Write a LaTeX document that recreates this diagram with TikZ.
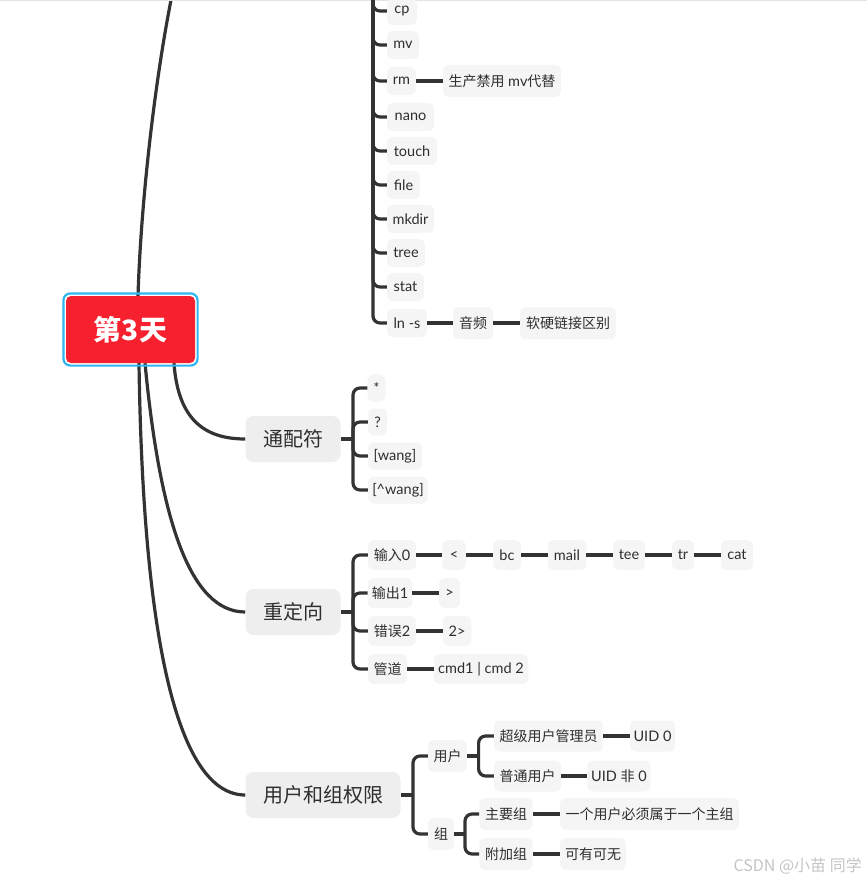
\documentclass[tikz,border=0pt]{standalone}
\usepackage{fontspec}
\setmainfont{Lato}
\newfontfamily\cjk{Noto Sans CJK SC}
\usetikzlibrary{backgrounds}
\definecolor{txt}{HTML}{2E2E2E}
\definecolor{linec}{HTML}{333333}
\definecolor{leafbg}{HTML}{F5F5F5}
\definecolor{topicbg}{HTML}{EEEEEE}
\definecolor{rootred}{HTML}{F7202E}
\definecolor{rootblue}{HTML}{2FB5F0}
\definecolor{wm}{HTML}{C4C4C4}
\definecolor{topline}{HTML}{E4E4E4}
\begin{document}
\begin{tikzpicture}[x=1pt,y=-1pt,
  conn/.style={draw=linec,line width=3.2pt},
  leafbox/.style={rectangle,rounded corners=6pt,fill=leafbg,inner sep=0pt,minimum height=28pt,text=txt,font=\fontsize{14.5}{16}\selectfont},
  cjkleaf/.style={leafbox,font=\cjk\fontsize{14}{16}\selectfont},
  topic/.style={rectangle,rounded corners=8pt,fill=topicbg,inner sep=0pt,minimum height=46pt,text=txt,font=\cjk\fontsize{20}{24}\selectfont},
  rootnode/.style={rectangle,rounded corners=5pt,fill=rootred,inner sep=0pt,text=white,font=\cjk\bfseries\fontsize{28}{32}\selectfont}
]
\useasboundingbox (0,0) rectangle (867,882);
\draw[topline,line width=1pt] (0,0.5) -- (867,0.5);

% ---------- root ----------
\node[rootnode,minimum width=129pt,minimum height=67pt] (root) at (130.5,329.5) {第3天};
\draw[rootblue,line width=2.2pt,rounded corners=7pt]
  ([xshift=-2.4pt,yshift=2.4pt]root.north west) rectangle ([xshift=2.4pt,yshift=-2.4pt]root.south east);

% ---------- top column (parent above the picture) ----------
\coordinate (upend) at (172,-5);
\coordinate (fb) at (373,-30);
\node[leafbox,minimum width=30pt] (cp) at (402,11) {cp};
\node[leafbox,minimum width=32pt] (mv) at (403,45) {mv};
\node[leafbox,minimum width=29pt] (rm) at (401.5,81) {rm};
\node[leafbox,minimum width=118pt,minimum height=32pt] (rmx) at (502,81) {{\cjk\fontsize{14}{16}\selectfont 生产禁用} mv{\cjk\fontsize{14}{16}\selectfont 代替}};
\node[leafbox,minimum width=47pt] (nano) at (410.5,117) {nano};
\node[leafbox,minimum width=50pt] (touch) at (412,151) {touch};
\node[leafbox,minimum width=33pt] (file) at (403.5,185) {file};
\node[leafbox,minimum width=47pt] (mkdir) at (410.5,219) {mkdir};
\node[leafbox,minimum width=38pt] (tree) at (406,253) {tree};
\node[leafbox,minimum width=37pt] (stat) at (405.5,287) {stat};
\node[leafbox,minimum width=40pt] (lns) at (407,323) {ln -s};
\node[cjkleaf,minimum width=40pt,minimum height=32pt] (yp) at (473,323) {音频};
\node[cjkleaf,minimum width=96pt,minimum height=32pt] (rylj) at (568,323) {软硬链接区别};
\foreach \n in {cp,mv,rm,nano,touch,file,mkdir,tree,stat,lns}
  \draw[conn,rounded corners=7pt] (fb) |- (\n.west);
\draw[conn] (rm.east) -- (rmx.west);
\draw[conn] (lns.east) -- (yp.west);
\draw[conn] (yp.east) -- (rylj.west);

% ---------- 通配符 ----------
\node[topic,minimum width=95pt] (tp) at (293,439) {通配符};
\coordinate (tpb) at (353,439);
\node[leafbox,minimum width=18pt,minimum height=27pt] (star) at (376.5,388) {*};
\node[leafbox,minimum width=19pt,minimum height=27pt] (q) at (377.5,422) {?};
\node[leafbox,minimum width=54pt,minimum height=27pt] (wang) at (395,456) {[wang]};
\node[leafbox,minimum width=60pt,minimum height=27pt] (nwang) at (398,490) {[\^{}wang]};
\draw[conn] (tp.east) -- (tpb);
\foreach \n in {star,q,wang,nwang}
  \draw[conn,rounded corners=7pt] (tpb) |- (\n.west);

% ---------- 重定向 ----------
\node[topic,minimum width=95pt] (cdx) at (293,612) {重定向};
\coordinate (cdb) at (353,612);
\node[leafbox,minimum width=48pt,minimum height=30pt] (in0) at (392,555) {{\cjk\fontsize{14}{16}\selectfont 输入}0};
\node[leafbox,minimum width=23.5pt,minimum height=30pt] (lt) at (454,555) {<};
\node[leafbox,minimum width=28pt,minimum height=30pt] (bc) at (507,555) {bc};
\node[leafbox,minimum width=38.5pt,minimum height=30pt] (mail) at (567,555) {mail};
\node[leafbox,minimum width=32pt,minimum height=30pt] (tee) at (629,555) {tee};
\node[leafbox,minimum width=22pt,minimum height=30pt] (tr) at (683,555) {tr};
\node[leafbox,minimum width=32pt,minimum height=30pt] (cat) at (737,555) {cat};
\node[leafbox,minimum width=44.5pt,minimum height=30pt] (out1) at (390,593) {{\cjk\fontsize{14}{16}\selectfont 输出}1};
\node[leafbox,minimum width=21pt,minimum height=30pt] (gt) at (449.5,593) {>};
\node[leafbox,minimum width=48pt,minimum height=30pt] (err2) at (392,631) {{\cjk\fontsize{14}{16}\selectfont 错误}2};
\node[leafbox,minimum width=28.5pt,minimum height=30pt] (e2) at (457,631) {2>};
\node[cjkleaf,minimum width=39pt,minimum height=30pt] (pipe) at (387.5,669) {管道};
\node[leafbox,minimum width=94.5pt,minimum height=30pt] (cmd) at (481,669) {cmd1 | cmd 2};
\draw[conn] (cdx.east) -- (cdb);
\foreach \n in {in0,out1,err2,pipe}
  \draw[conn,rounded corners=7pt] (cdb) |- (\n.west);
\draw[conn] (in0.east) -- (lt.west);
\draw[conn] (lt.east) -- (bc.west);
\draw[conn] (bc.east) -- (mail.west);
\draw[conn] (mail.east) -- (tee.west);
\draw[conn] (tee.east) -- (tr.west);
\draw[conn] (tr.east) -- (cat.west);
\draw[conn] (out1.east) -- (gt.west);
\draw[conn] (err2.east) -- (e2.west);
\draw[conn] (pipe.east) -- (cmd.west);

% ---------- 用户和组权限 ----------
\node[topic,minimum width=155pt] (ug) at (323,795) {用户和组权限};
\coordinate (ugb) at (413,795);
\node[cjkleaf,minimum width=39pt,minimum height=32pt] (user) at (447.5,756) {用户};
\coordinate (userb) at (478.6,756);
\node[cjkleaf,minimum width=109pt,minimum height=31pt] (admin) at (548.5,736) {超级用户管理员};
\node[leafbox,minimum width=45pt,minimum height=31pt] (uid0) at (652.5,736) {UID 0};
\node[cjkleaf,minimum width=67pt,minimum height=31pt] (normal) at (527.5,776) {普通用户};
\node[leafbox,minimum width=63pt,minimum height=31pt] (uidn) at (619,776) {UID {\cjk\fontsize{14}{16}\selectfont 非} 0};
\node[cjkleaf,minimum width=26pt,minimum height=32pt] (group) at (441,834) {组};
\coordinate (groupb) at (465,834);
\node[cjkleaf,minimum width=53.4pt,minimum height=32pt] (maing) at (506,814) {主要组};
\node[cjkleaf,minimum width=179pt,minimum height=32pt] (maingx) at (649.5,814) {一个用户必须属于一个主组};
\node[cjkleaf,minimum width=53.4pt,minimum height=32pt] (extra) at (506,854) {附加组};
\node[cjkleaf,minimum width=66pt,minimum height=32pt] (extrax) at (593,854) {可有可无};
\draw[conn] (ug.east) -- (ugb);
\foreach \n in {user,group}
  \draw[conn,rounded corners=7pt] (ugb) |- (\n.west);
\draw[conn] (user.east) -- (userb);
\foreach \n in {admin,normal}
  \draw[conn,rounded corners=7pt] (userb) |- (\n.west);
\draw[conn] (group.east) -- (groupb);
\foreach \n in {maing,extra}
  \draw[conn,rounded corners=7pt] (groupb) |- (\n.west);
\draw[conn] (admin.east) -- (uid0.west);
\draw[conn] (normal.east) -- (uidn.west);
\draw[conn] (maing.east) -- (maingx.west);
\draw[conn] (extra.east) -- (extrax.west);

% ---------- root branches ----------
\begin{pgfonlayer}{background}
\draw[conn] ([xshift=7.5pt]root.north) .. controls (141,200) and (155,80) .. (upend);
\draw[conn] ([xshift=43.5pt]root.south) .. controls (178,420) and (205,439) .. (tp.west);
\draw[conn] ([xshift=14.5pt]root.south) .. controls (160,520) and (190,612) .. (cdx.west);
\draw[conn] ([xshift=8.5pt]root.south) .. controls (143,650) and (180,795) .. (ug.west);
\end{pgfonlayer}

% ---------- watermark ----------
\node[anchor=east,inner sep=0pt,text=wm,font=\cjk\fontsize{16}{18}\selectfont] (wmk) at (862,866) {CSDN @小苗 同学};
\end{tikzpicture}
\end{document}
